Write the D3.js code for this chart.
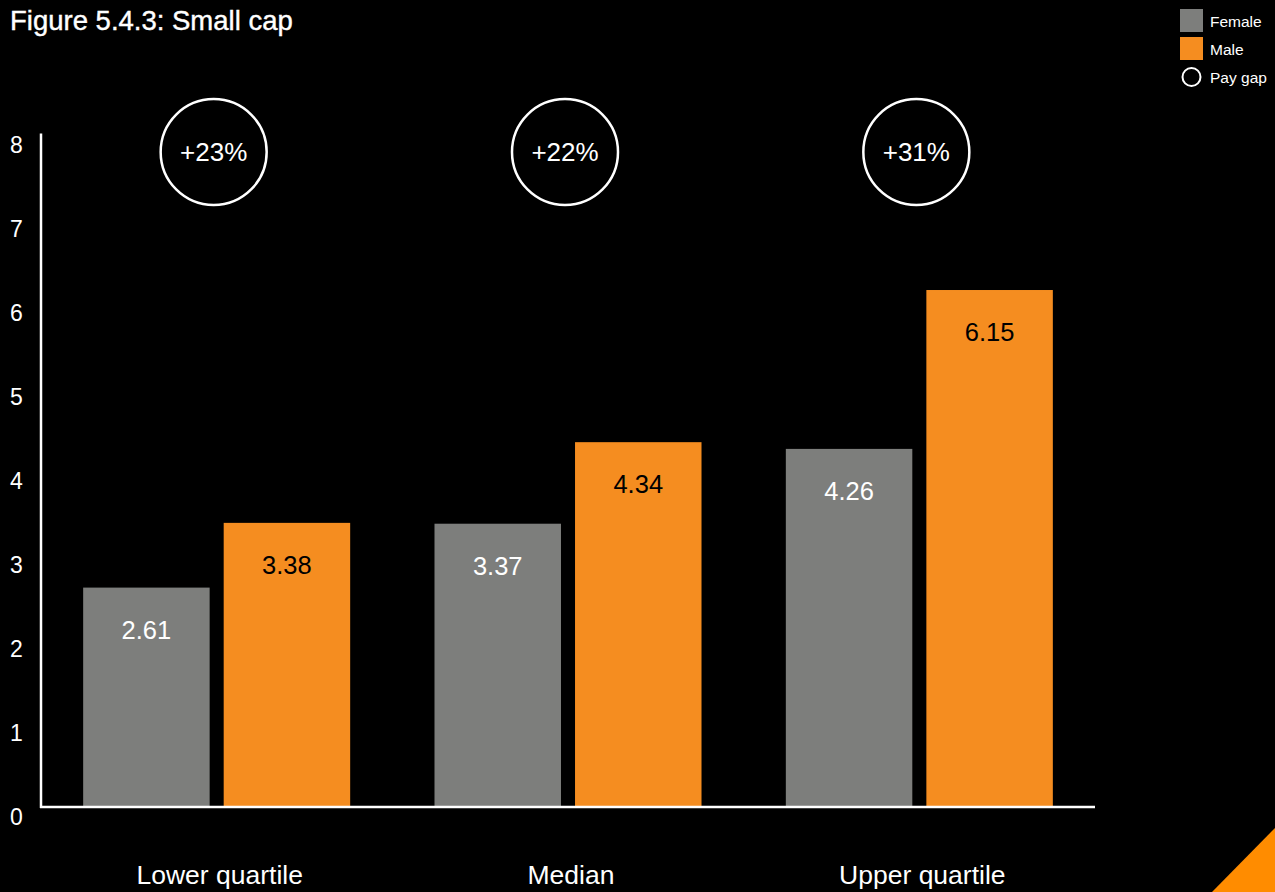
<!DOCTYPE html>
<html><head><meta charset="utf-8">
<script src="https://cdn.jsdelivr.net/npm/d3@7"></script>
<style>
html,body{margin:0;padding:0;background:#000;}
svg{display:block;font-family:"Liberation Sans",Arial,Helvetica,sans-serif;}
</style></head>
<body>
<svg id="chart" width="1275" height="892"></svg>
<script>
const categories = ["Lower quartile", "Median", "Upper quartile"];
const seriesNames = ["Female", "Male"];
const female = [2.61, 3.37, 4.26];
const male = [3.38, 4.34, 6.15];
const payGap = ["+23%", "+22%", "+31%"];
const yTicks = [0, 1, 2, 3, 4, 5, 6, 7, 8];
const colors = {Female: "#7d7e7c", Male: "#f58d20"};
const labelColors = {Female: "#ffffff", Male: "#000000"};

const svg = d3.select("#chart");
svg.append("rect").attr("width", 1275).attr("height", 892).attr("fill", "#000");

const x0 = d3.scaleBand().domain(categories).range([41, 1095]).paddingInner(0.24).paddingOuter(0.12);
const x1 = d3.scaleBand().domain(seriesNames).range([0, x0.bandwidth()]).paddingInner(0.1);
const y = d3.scaleLinear().domain([0, 8]).range([807, 134.5]);

// title
svg.append("text").attr("x", 10).attr("y", 30).attr("fill", "#fff")
  .attr("font-size", 27.5).attr("stroke", "#fff").attr("stroke-width", 0.4)
  .text("Figure 5.4.3: Small cap");

// bars
const data = categories.map((c, i) => ({cat: c, vals: [{s: "Female", v: female[i]}, {s: "Male", v: male[i]}]}));
const g = svg.selectAll("g.grp").data(data).enter().append("g")
  .attr("transform", d => `translate(${x0(d.cat)},0)`);
g.selectAll("rect").data(d => d.vals).enter().append("rect")
  .attr("x", d => x1(d.s)).attr("width", x1.bandwidth())
  .attr("y", d => y(d.v)).attr("height", d => y(0) - y(d.v))
  .attr("fill", d => colors[d.s]);
g.selectAll("text.val").data(d => d.vals).enter().append("text")
  .attr("class", "val")
  .attr("x", d => x1(d.s) + x1.bandwidth() / 2)
  .attr("y", d => y(d.v) + 51)
  .attr("text-anchor", "middle").attr("font-size", 25.5)
  .attr("fill", d => labelColors[d.s])
  .text(d => d.v.toFixed(2));

// axes lines
svg.append("line").attr("x1", 41).attr("x2", 41).attr("y1", y(8) - 1).attr("y2", y(0) + 1)
  .attr("stroke", "#fff").attr("stroke-width", 2.5);
svg.append("line").attr("x1", 40).attr("x2", 1095).attr("y1", y(0)).attr("y2", y(0))
  .attr("stroke", "#fff").attr("stroke-width", 2.5);

// y tick labels
svg.selectAll("text.ytick").data(yTicks).enter().append("text")
  .attr("class", "ytick").attr("x", 10).attr("y", d => y(d) + 18)
  .attr("fill", "#fff").attr("font-size", 23).text(d => d);

// category labels
svg.selectAll("text.cat").data(categories).enter().append("text")
  .attr("class", "cat").attr("x", d => x0(d) + x0.bandwidth() / 2 + 3).attr("y", 884)
  .attr("text-anchor", "middle").attr("fill", "#fff").attr("font-size", 26.5).text(d => d);

// pay gap circles
const cg = svg.selectAll("g.gap").data(categories).enter().append("g")
  .attr("transform", (d, i) => `translate(${x0(d) + x0.bandwidth() / 2 - 3},152)`);
cg.append("circle").attr("r", 53).attr("fill", "none").attr("stroke", "#fff").attr("stroke-width", 2.5);
cg.append("text").attr("text-anchor", "middle").attr("y", 9).attr("fill", "#fff")
  .attr("font-size", 26).text((d, i) => payGap[i]);

// legend
const lg = svg.append("g");
seriesNames.forEach((s, i) => {
  lg.append("rect").attr("x", 1180).attr("y", 9 + i * 28).attr("width", 23).attr("height", 23).attr("fill", colors[s]);
  lg.append("text").attr("x", 1210).attr("y", 27 + i * 28).attr("fill", "#fff").attr("font-size", 15.5).text(s);
});
lg.append("circle").attr("cx", 1191.5).attr("cy", 77).attr("r", 9).attr("fill", "none").attr("stroke", "#fff").attr("stroke-width", 2);
lg.append("text").attr("x", 1210).attr("y", 83).attr("fill", "#fff").attr("font-size", 15.5).text("Pay gap");

// corner triangle
svg.append("path").attr("d", "M1212,892 L1275,828 L1275,892 Z").attr("fill", "#ff8c00");
</script>
</body></html>
